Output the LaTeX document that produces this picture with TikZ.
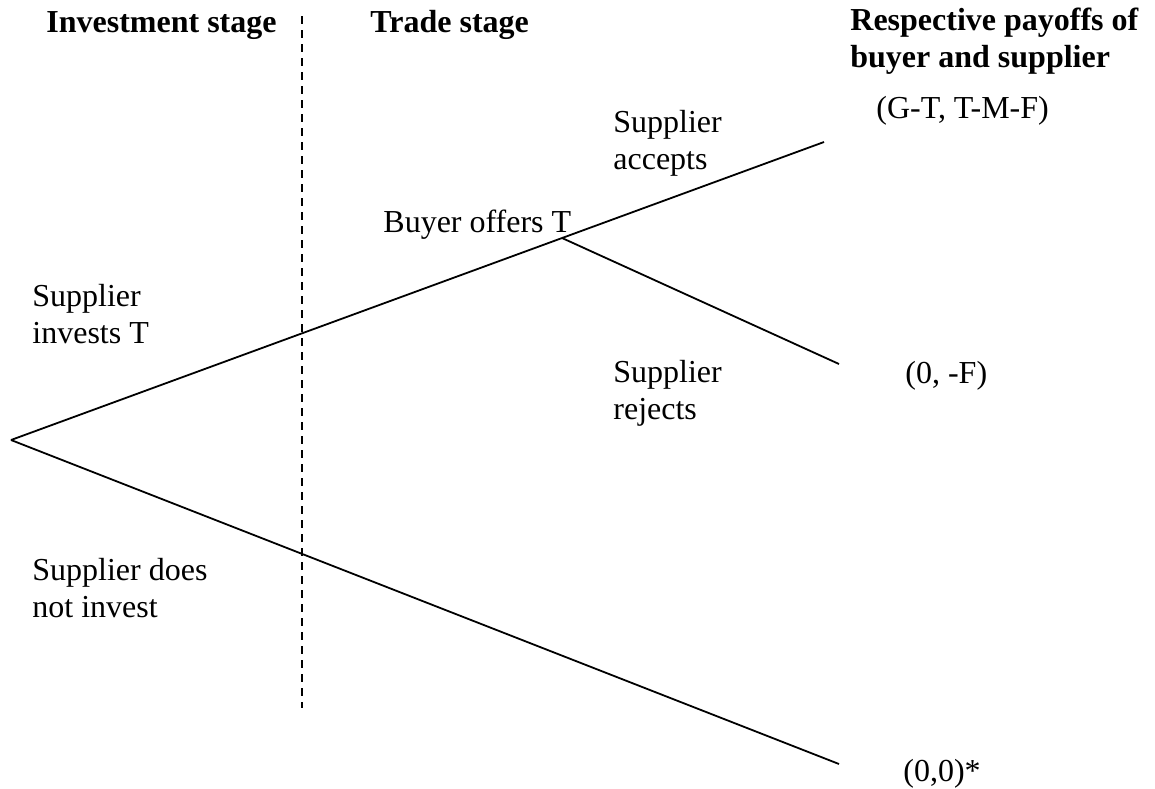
\documentclass[tikz,border=0pt]{standalone}
\usepackage{fontspec}
\setmainfont{Liberation Serif}
\newcommand\twoline[2]{\begin{tabular}[t]{@{}l@{}}#1\\#2\end{tabular}}
\begin{document}
\begin{tikzpicture}[x=0.5pt,y=-0.5pt,
  lbl/.style={anchor=base west,inner sep=0pt,font=\fontsize{16}{18.5}\selectfont},
  head/.style={lbl,font=\fontsize{16}{18.5}\selectfont\bfseries},
  branchline/.style={line width=0.9pt},
  stageline/.style={line width=0.9pt,dash pattern=on 4pt off 3pt}]
\useasboundingbox (0,0) rectangle (1155,788);
% headings
\node[head] (hinv) at (46,32) {Investment stage};
\node[head] (htrade) at (370,32) {Trade stage};
\node[head] (hpay) at (850,30) {\twoline{Respective payoffs of}{buyer and supplier}};
% tree points
\coordinate (root) at (11,440);
\coordinate (up) at (824,142);
\coordinate (branch) at (562,238);
\coordinate (rej) at (839,364);
\coordinate (dn) at (839,764);
\coordinate (dtop) at (302,16);
\coordinate (dbot) at (302,708);
% stage separator
\draw[stageline] (dtop) -- (dbot);
% branches
\draw[branchline] (root) -- (up);
\draw[branchline] (branch) -- (rej);
\draw[branchline] (root) -- (dn);
% labels
\node[lbl] (inv) at (32,306) {\twoline{Supplier}{invests T}};
\node[lbl] (noinv) at (32,580) {\twoline{Supplier does}{not invest}};
\node[lbl] (offer) at (383,232) {Buyer offers T};
\node[lbl] (acc) at (613,132) {\twoline{Supplier}{accepts}};
\node[lbl] (rejl) at (613,382) {\twoline{Supplier}{rejects}};
% payoffs
\node[lbl] (pacc) at (876,118) {(G-T, T-M-F)};
\node[lbl] (prej) at (905,383) {(0, -F)};
\node[lbl] (pno) at (903,781) {(0,0)*};
\end{tikzpicture}
\end{document}
